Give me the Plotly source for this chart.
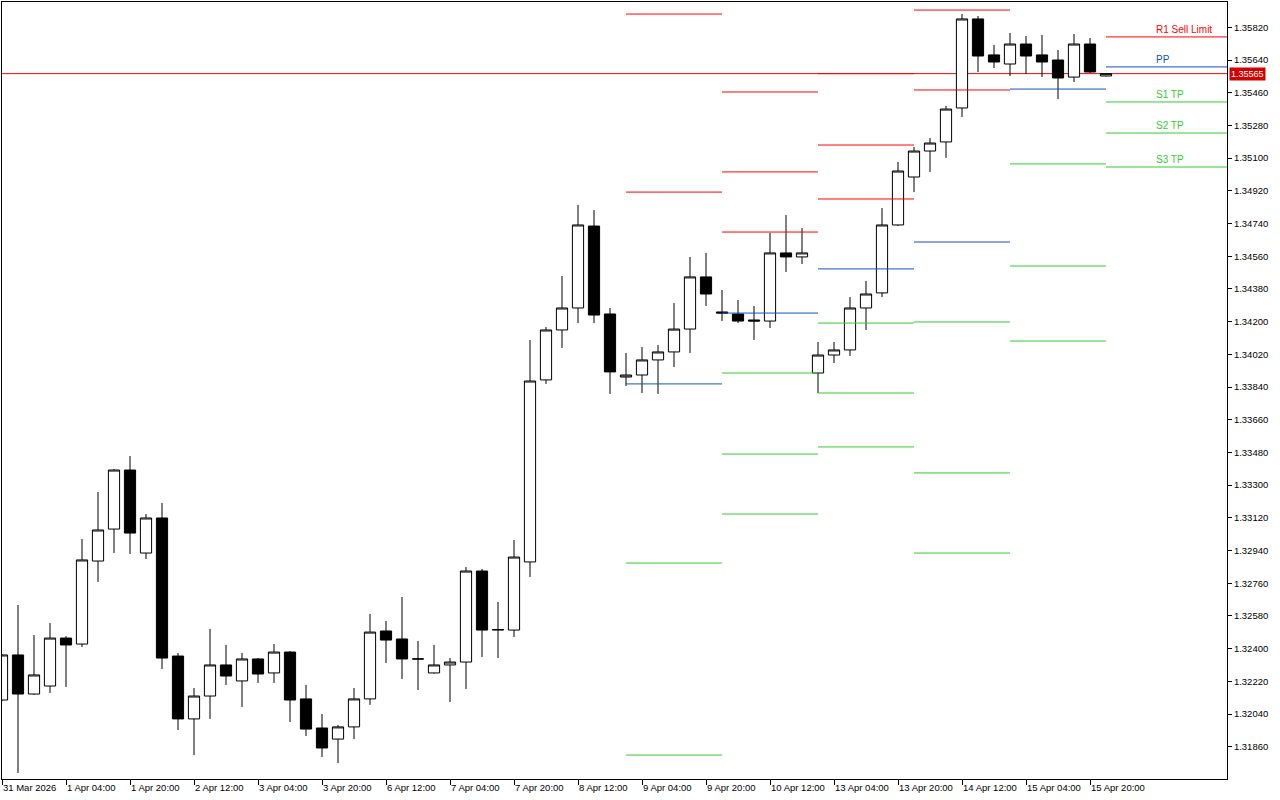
import plotly.graph_objects as go

# ---------------- data (H4 candles, 31 Mar 2026 12:00 -> 16 Apr 2026 00:00) ----------------
opens = [1.32117, 1.32365, 1.32150, 1.32194, 1.32458, 1.32425, 1.32882, 1.33058, 1.33383, 1.32926,
         1.33119, 1.32359, 1.32013, 1.32139, 1.32310, 1.32222, 1.32343, 1.32266, 1.32381, 1.32123,
         1.31963, 1.31902, 1.31969, 1.32123, 1.32497, 1.32453, 1.32343, 1.32266, 1.32310, 1.32326,
         1.32827, 1.32502, 1.32502, 1.32877, 1.33879, 1.34154, 1.34275, 1.34726, 1.34242, 1.33895,
         1.33906, 1.33989, 1.34033, 1.34159, 1.34446, 1.34253, 1.34242, 1.34209, 1.34203, 1.34578,
         1.34556, 1.33917, 1.34016, 1.34044, 1.34275, 1.34358, 1.34732, 1.34996, 1.35139, 1.35189,
         1.35376, 1.35866, 1.35668, 1.35618, 1.35728, 1.35668, 1.35640, 1.35546, 1.35728, 1.35552]

highs = [1.32370, 1.32640, 1.32475, 1.32541, 1.32469, 1.33003, 1.33262, 1.33389, 1.33460, 1.33141,
         1.33202, 1.32376, 1.32183, 1.32508, 1.32420, 1.32376, 1.32348, 1.32425, 1.32387, 1.32200,
         1.32040, 1.31980, 1.32183, 1.32591, 1.32552, 1.32684, 1.32442, 1.32420, 1.32348, 1.32849,
         1.32838, 1.32657, 1.32998, 1.34099, 1.34170, 1.34451, 1.34842, 1.34814, 1.34275, 1.34027,
         1.34060, 1.34071, 1.34302, 1.34556, 1.34578, 1.34374, 1.34319, 1.34286, 1.34688, 1.34787,
         1.34715, 1.34088, 1.34088, 1.34335, 1.34424, 1.34825, 1.35079, 1.35161, 1.35211, 1.35387,
         1.35893, 1.35882, 1.35723, 1.35789, 1.35772, 1.35778, 1.35695, 1.35783, 1.35761, 1.35567]

lows = [1.32112, 1.31715, 1.32145, 1.32156, 1.32189, 1.32409, 1.32767, 1.32926, 1.32921, 1.32893,
        1.32288, 1.31952, 1.31814, 1.32013, 1.32200, 1.32079, 1.32211, 1.32211, 1.31996, 1.31919,
        1.31803, 1.31770, 1.31902, 1.32090, 1.32321, 1.32233, 1.32172, 1.32262, 1.32106, 1.32178,
        1.32354, 1.32348, 1.32464, 1.32794, 1.33857, 1.34055, 1.34192, 1.34192, 1.33802, 1.33846,
        1.33807, 1.33802, 1.33950, 1.34027, 1.34286, 1.34203, 1.34192, 1.34099, 1.34165, 1.34473,
        1.34517, 1.33807, 1.33972, 1.34011, 1.34154, 1.34335, 1.34726, 1.34913, 1.35024, 1.35101,
        1.35326, 1.35574, 1.35596, 1.35552, 1.35563, 1.35546, 1.35425, 1.35519, 1.35569, 1.35550]

closes = [1.32365, 1.32150, 1.32255, 1.32458, 1.32420, 1.32888, 1.33053, 1.33383, 1.33036, 1.33119,
          1.32348, 1.32013, 1.32139, 1.32310, 1.32249, 1.32343, 1.32260, 1.32381, 1.32117, 1.31957,
          1.31853, 1.31969, 1.32123, 1.32491, 1.32447, 1.32343, 1.32343, 1.32310, 1.32326, 1.32827,
          1.32502, 1.32505, 1.32904, 1.33873, 1.34154, 1.34275, 1.34732, 1.34236, 1.33923, 1.33906,
          1.33989, 1.34033, 1.34159, 1.34446, 1.34352, 1.34247, 1.34203, 1.34203, 1.34578, 1.34556,
          1.34578, 1.34016, 1.34044, 1.34275, 1.34352, 1.34732, 1.35029, 1.35139, 1.35183, 1.35370,
          1.35866, 1.35662, 1.35629, 1.35728, 1.35662, 1.35629, 1.35541, 1.35728, 1.35574, 1.35565]

current_price = 1.35565

# time-axis labels (bar index -> label)
tick_idx = [0, 4, 8, 12, 16, 20, 24, 28, 32, 36, 40, 44, 48, 52, 56, 60, 64, 68]
tick_text = ["31 Mar 2026", "1 Apr 04:00", "1 Apr 20:00", "2 Apr 12:00", "3 Apr 04:00",
             "3 Apr 20:00", "6 Apr 12:00", "7 Apr 04:00", "7 Apr 20:00", "8 Apr 12:00",
             "9 Apr 04:00", "9 Apr 20:00", "10 Apr 12:00", "13 Apr 04:00", "13 Apr 20:00",
             "14 Apr 12:00", "15 Apr 04:00", "15 Apr 20:00"]

price_ticks = [1.31860, 1.32040, 1.32220, 1.32400, 1.32580, 1.32760, 1.32940, 1.33120,
               1.33300, 1.33480, 1.33660, 1.33840, 1.34020, 1.34200, 1.34380, 1.34560,
               1.34740, 1.34920, 1.35100, 1.35280, 1.35460, 1.35640, 1.35820]

# daily pivot levels (9, 10, 13, 14, 15, 16 Apr) drawn from the day's first bar to the next day's
day_start = [39, 45, 51, 57, 63, 69]
day_end = [45, 51, 57, 63, 69, 77]
r3 = [None, 1.35464, 1.35565, None, None, None]
r2 = [1.35893, 1.35024, 1.35172, 1.35915, None, None]
r1 = [1.34913, 1.34693, 1.34875, 1.35475, None, 1.35767]
pp = [1.33857, 1.34247, 1.34490, 1.34638, 1.35480, 1.35602]
s1 = [1.32871, 1.33917, 1.34192, 1.34198, 1.35068, 1.35409]
s2 = [1.31814, 1.33471, 1.33807, 1.33367, 1.34506, 1.35238]
s3 = [None, 1.33141, 1.33510, 1.32926, 1.34093, 1.35051]

level_labels = ["R1 Sell Limit", "PP", "S1 TP", "S2 TP", "S3 TP"]
level_values = [r1[-1], pp[-1], s1[-1], s2[-1], s3[-1]]

RED = "#ff0000"
BLUE = "#1450c8"
GREEN = "#32cd32"
level_colors = [RED, BLUE, GREEN, GREEN, GREEN]

FONT = "Liberation Sans, Arial, sans-serif"

x = list(range(len(opens)))

fig = go.Figure()

# pivot segments
def seg_trace(levels, color):
    xs, ys = [], []
    for a, b, v in zip(day_start, day_end, levels):
        if v is None:
            continue
        xs += [a, b, None]
        ys += [v, v, None]
    return go.Scatter(x=xs, y=ys, mode="lines", line=dict(color=color, width=1),
                      hoverinfo="skip", showlegend=False)

for lv, col in [(r3, RED), (r2, RED), (r1, RED), (pp, BLUE), (s1, GREEN), (s2, GREEN), (s3, GREEN)]:
    fig.add_trace(seg_trace(lv, col))

# current price line
fig.add_hline(y=current_price, line=dict(color=RED, width=1), layer="below")

fig.add_trace(go.Candlestick(
    x=x, open=opens, high=highs, low=lows, close=closes,
    increasing=dict(line=dict(color="black", width=1), fillcolor="white"),
    decreasing=dict(line=dict(color="black", width=1), fillcolor="black"),
    whiskerwidth=0, showlegend=False,
))

annotations = []
for lab, val, col in zip(level_labels, level_values, level_colors):
    annotations.append(dict(x=72, y=val, xref="x", yref="y", text=lab, showarrow=False,
                            xanchor="left", yanchor="bottom", yshift=0,
                            font=dict(family=FONT, size=10, color=col)))
annotations.append(dict(x=1, y=current_price, xref="paper", yref="y",
                        text=f"{current_price:.5f}", showarrow=False,
                        xanchor="left", yanchor="middle", xshift=2,
                        bgcolor="#d40000", borderpad=1,
                        font=dict(family=FONT, size=9, color="white")))

fig.update_layout(
    width=1280, height=800,
    margin=dict(l=2, r=53, t=2, b=21),
    paper_bgcolor="white", plot_bgcolor="white",
    boxgap=0.3, boxgroupgap=0,
    showlegend=False,
    annotations=annotations,
    font=dict(family=FONT, size=9, color="black"),
)

fig.update_xaxes(
    range=[0, 76.5625], showgrid=False, zeroline=False,
    rangeslider=dict(visible=False),
    showline=True, linecolor="black", linewidth=1, mirror=True,
    ticks="outside", ticklen=5, tickcolor="black", tickwidth=1,
    tickvals=tick_idx, ticktext=tick_text, ticklabelposition="outside right",
    tickfont=dict(family=FONT, size=9.5, color="black"),
)
fig.update_yaxes(
    range=[1.316822, 1.359593], side="right", showgrid=False, zeroline=False,
    showline=True, linecolor="black", linewidth=1, mirror=True,
    ticks="outside", ticklen=4, tickcolor="black", tickwidth=1,
    tickvals=price_ticks, ticktext=[f"{v:.5f}" for v in price_ticks],
    tickfont=dict(family=FONT, size=9.5, color="black"),
)

fig.write_html("out.html", config={"displayModeBar": False},
               post_script="document.body.style.margin='0';document.body.style.overflow='hidden';")
